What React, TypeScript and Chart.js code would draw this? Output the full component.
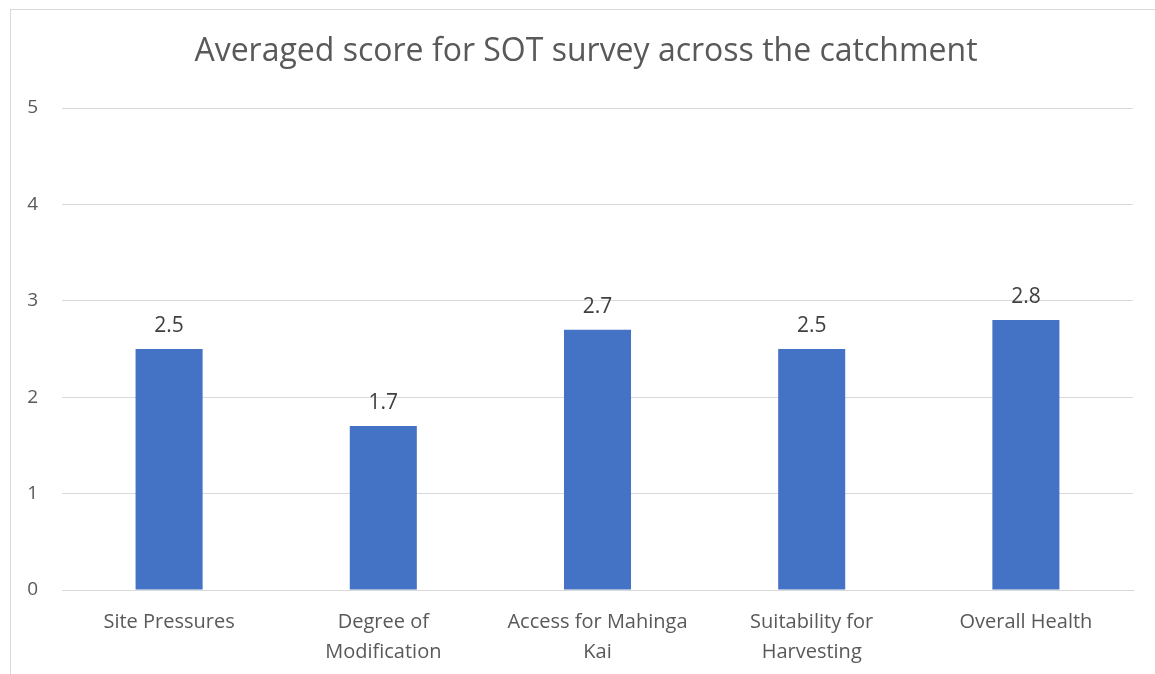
import React, { useEffect, useRef } from "react";
import { Chart, registerables } from "chart.js";

Chart.register(...registerables);

const categories: string[][] = [
  ["Site Pressures"],
  ["Degree of", "Modification"],
  ["Access for Mahinga", "Kai"],
  ["Suitability for", "Harvesting"],
  ["Overall Health"],
];
const scores: number[] = [2.5, 1.7, 2.7, 2.5, 2.8];
const yTicks: number[] = [0, 1, 2, 3, 4, 5];
const titleText = "Averaged score for SOT survey across the catchment";

const FONT = "'Open Sans', 'Noto Sans', sans-serif";

const valueLabels = {
  id: "valueLabels",
  afterDatasetsDraw(chart: any) {
    const ctx = chart.ctx;
    const meta = chart.getDatasetMeta(0);
    ctx.save();
    ctx.font = `21px ${FONT}`;
    ctx.fillStyle = "#404040";
    ctx.textAlign = "center";
    ctx.textBaseline = "alphabetic";
    meta.data.forEach((bar: any, i: number) => {
      ctx.fillText(String(scores[i]), bar.x, bar.y - 17);
    });
    ctx.restore();
  },
};

const titlePlugin = {
  id: "centeredTitle",
  afterDraw(chart: any) {
    const ctx = chart.ctx;
    ctx.save();
    ctx.font = `32px ${FONT}`;
    ctx.fillStyle = "#595959";
    ctx.textAlign = "center";
    ctx.textBaseline = "alphabetic";
    ctx.fillText(titleText, 575, 51);
    ctx.restore();
  },
};

export default function App() {
  const ref = useRef<HTMLCanvasElement | null>(null);
  useEffect(() => {
    if (!ref.current) return;
    const chart = new Chart(ref.current, {
      type: "bar",
      data: {
        labels: categories as any,
        datasets: [
          {
            data: scores,
            backgroundColor: "#4472C4",
            categoryPercentage: 1,
            barPercentage: 0.313,
          },
        ],
      },
      options: {
        animation: false,
        responsive: false,
        maintainAspectRatio: false,
        layout: { padding: { left: 0, right: 22, top: 98, bottom: 0 } },
        plugins: {
          legend: { display: false },
          tooltip: { enabled: false },
          title: { display: false },
        },
        scales: {
          x: {
            grid: { display: false },
            border: { display: true, color: "#d9d9d9", width: 1 },
            ticks: {
              color: "#595959",
              font: { family: FONT, size: 20, lineHeight: 1.5 },
              padding: 9,
              maxRotation: 0,
              autoSkip: false,
            },
            afterFit(scale: any) {
              scale.height = 84;
            },
          },
          y: {
            min: 0,
            max: 5,
            afterBuildTicks(scale: any) {
              scale.ticks = yTicks.map((v) => ({ value: v }));
            },
            grid: { color: "#d9d9d9", lineWidth: 1, drawTicks: false },
            border: { display: false },
            ticks: {
              color: "#595959",
              font: { family: FONT, size: 19 },
              padding: 24,
            },
            afterFit(scale: any) {
              scale.width = 51;
            },
          },
        },
      },
      plugins: [valueLabels, titlePlugin],
    });
    return () => chart.destroy();
  }, []);
  return (
    <div
      style={{
        position: "absolute",
        left: 10,
        top: 9,
        width: 1145,
        height: 665,
        borderTop: "1px solid #d9d9d9",
        borderLeft: "1px solid #d9d9d9",
        background: "#fff",
        overflow: "hidden",
      }}
    >
      <canvas ref={ref} width={1144} height={664} style={{ display: "block" }} />
    </div>
  );
}
